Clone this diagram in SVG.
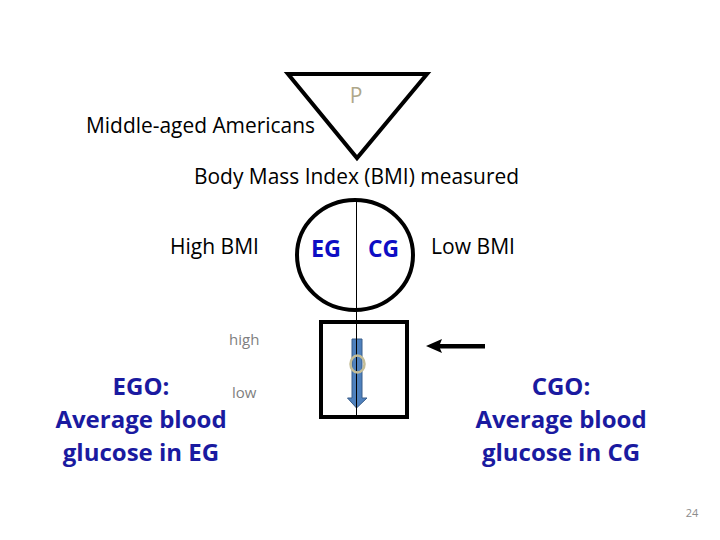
<svg xmlns="http://www.w3.org/2000/svg" width="720" height="540" viewBox="0 0 720 540">
<style>
  .lbl { font-family: "Open Sans", "Liberation Sans", sans-serif; font-size: 21px; fill: #000; }
  .grp { font-family: "Open Sans", "Liberation Sans", sans-serif; font-size: 24px; font-weight: bold; fill: #0d0dc4; }
  .out { font-family: "Open Sans", "Liberation Sans", sans-serif; font-size: 24px; font-weight: bold; fill: #1a1aa0; text-anchor: middle; }
  .small { font-family: "Open Sans", "Liberation Sans", sans-serif; font-size: 15px; fill: #7f7f7f; }
  .shape { fill: none; stroke: #000; stroke-width: 4; }
</style>
<rect width="720" height="540" fill="#fff"/>

<g id="population">
  <polygon class="shape" points="288,74 427,74 357,158"/>
  <text x="356" y="103" text-anchor="middle" style="font-family:'Open Sans','Liberation Sans',sans-serif;font-size:21px;fill:#aea78a">P</text>
  <text class="lbl" x="86" y="133" textLength="229" lengthAdjust="spacingAndGlyphs">Middle-aged Americans</text>
</g>

<g id="measure">
  <text class="lbl" x="194" y="184" textLength="325" lengthAdjust="spacingAndGlyphs">Body Mass Index (BMI) measured</text>
</g>

<g id="groups">
  <ellipse class="shape" cx="355" cy="255" rx="58" ry="55"/>
  <text class="grp" x="311" y="257" textLength="30" lengthAdjust="spacingAndGlyphs">EG</text>
  <text class="grp" x="368" y="257" textLength="31" lengthAdjust="spacingAndGlyphs">CG</text>
  <text class="lbl" x="170" y="254" textLength="89" lengthAdjust="spacingAndGlyphs">High BMI</text>
  <text class="lbl" x="431" y="254" textLength="84" lengthAdjust="spacingAndGlyphs">Low BMI</text>
</g>

<g id="outcome">
  <rect class="shape" x="321" y="322" width="86" height="95"/>
  <polygon points="352,339 362,339 362,398 367,398 356.5,408 347.5,398 352,398" fill="#4f81bd" stroke="#385d8a" stroke-width="1"/>
  <text class="small" x="229" y="345">high</text>
  <text class="small" x="232" y="398">low</text>
</g>

<g id="connectors">
  <line x1="356.5" y1="200" x2="356.5" y2="418" stroke="#000" stroke-width="1"/>
  <polygon points="426,346 442,339 440,344 485,344 485,348.5 440,348.5 442,353" fill="#000"/>
</g>

<g id="marker-o">
  <ellipse cx="357.5" cy="364" rx="7" ry="8.5" fill="none" stroke="#c4bd97" stroke-width="2.5"/>
</g>

<g id="ego">
  <text class="out" x="141" y="395">EGO:</text>
  <text class="out" x="141" y="428">Average blood</text>
  <text class="out" x="141" y="461">glucose in EG</text>
</g>

<g id="cgo">
  <text class="out" x="561" y="395">CGO:</text>
  <text class="out" x="561" y="428">Average blood</text>
  <text class="out" x="561" y="461">glucose in CG</text>
</g>

<text x="692" y="517" text-anchor="middle" style="font-family:'Open Sans','Liberation Sans',sans-serif;font-size:11px;fill:#8c8c8c">24</text>
</svg>
